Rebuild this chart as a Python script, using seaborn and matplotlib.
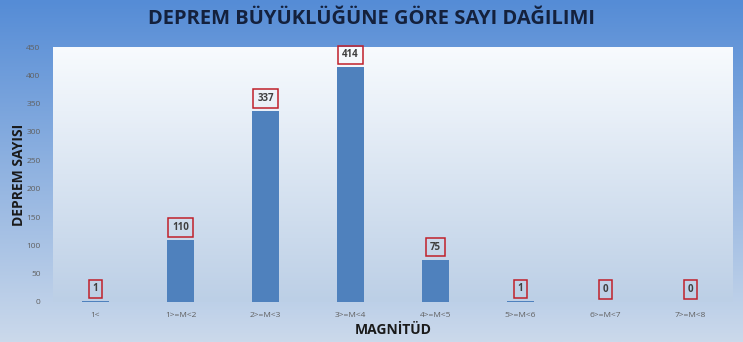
import numpy as np
import pandas as pd
import matplotlib
matplotlib.use("Agg")
import matplotlib.pyplot as plt
import seaborn as sns

categories = ["1<", "1>=M<2", "2>=M<3", "3>=M<4", "4>=M<5", "5>=M<6", "6>=M<7", "7>=M<8"]
counts = [1, 110, 337, 414, 75, 1, 0, 0]
yticks = [0, 50, 100, 150, 200, 250, 300, 350, 400, 450]

df = pd.DataFrame({"cat": categories, "n": counts})

sns.set_theme(style="white")
plt.rcParams['font.family'] = ['Open Sans', 'DejaVu Sans']

fig = plt.figure(figsize=(7.43, 3.42), dpi=100)

# figure background gradient
bg = fig.add_axes([0, 0, 1, 1], zorder=-10)
grad = np.linspace(0, 1, 256).reshape(-1, 1)
top_c = np.array([0x55, 0x8c, 0xd6]) / 255
bot_c = np.array([0xcb, 0xd9, 0xeb]) / 255
img = top_c[None, None, :] * (1 - grad[..., None]) + bot_c[None, None, :] * grad[..., None]
bg.imshow(img, aspect="auto", extent=[0, 1, 0, 1])
bg.set_axis_off()

ax = fig.add_axes([53/743, 1 - 302/342, 680/743, 255/342])
# plot area gradient
ptop = np.array([0xf8, 0xfb, 0xfe]) / 255
pbot = np.array([0xbc, 0xcf, 0xe6]) / 255
pimg = ptop[None, None, :] * (1 - grad[..., None]) + pbot[None, None, :] * grad[..., None]
ax.imshow(pimg, aspect="auto", extent=[-0.5, 7.5, 0, 450], zorder=0)

sns.barplot(data=df, x="cat", y="n", color="#4f81bd", saturation=1, width=0.32, ax=ax,
            zorder=2, linewidth=0, edgecolor="none")
ax.set_xlim(-0.5, 7.5)
ax.set_ylim(0, 450)
ax.set_yticks(yticks)
for s in ax.spines.values():
    s.set_visible(False)
ax.tick_params(axis="both", length=0, labelsize=6, colors="#606060", pad=7)
ax.tick_params(axis="y", pad=9)
ax.set_xlabel("MAGNİTÜD", fontsize=10, fontweight="bold", color="#1a1a1a", labelpad=3)
ax.set_ylabel("DEPREM SAYISI", fontsize=10, fontweight="bold", color="#1a1a1a", labelpad=0)
ax.grid(False)

for i, v in enumerate(counts):
    ax.annotate(str(v), (i, v), xytext=(0, 9), textcoords="offset points",
                ha="center", va="center", fontsize=7, fontweight="bold", color="#404040",
                bbox=dict(boxstyle="square,pad=0.4", fc="none", ec="#c0202a", lw=1.1),
                zorder=5)

fig.text(0.5, 1 - 19/342, "DEPREM BÜYÜKLÜĞÜNE GÖRE SAYI DAĞILIMI", ha="center", va="center",
         fontsize=14.5, fontweight="bold", color="#14213d")

fig.savefig("out.png", dpi=100)
